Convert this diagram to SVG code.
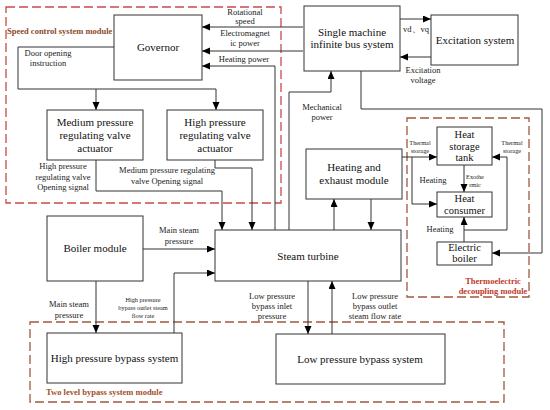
<svg xmlns="http://www.w3.org/2000/svg" width="550" height="410" viewBox="0 0 550 410" font-family="'Liberation Serif', 'Times New Roman', serif">
<defs>
<marker id="ah" markerUnits="userSpaceOnUse" markerWidth="9" markerHeight="8" refX="8" refY="3.5" orient="auto">
<path d="M0,0 L8,3.5 L0,7 z" fill="#000"/>
</marker>
<style>
text{font-family:"Liberation Serif","Times New Roman",serif}
.box{fill:#fff;stroke:#333;stroke-width:1}
.bt{font-size:11px;fill:#111;text-anchor:middle}
.st{font-size:10.5px;fill:#111;text-anchor:middle}
.lb{font-size:8.5px;fill:#222;text-anchor:middle}
.tl{font-size:6.3px;fill:#222;text-anchor:middle}
.ml{font-size:8.5px;font-weight:bold}
.cn{fill:none;stroke:#333;stroke-width:1}
.cn path{marker-end:url(#ah)}
.dash{fill:none;stroke-width:1.3;stroke-dasharray:9 4}
</style>
</defs>
<rect width="550" height="410" fill="#fff"/>
<g id="modules">
<rect class="dash" x="6" y="7" width="275" height="196" stroke="#cc4a4a"/>
<rect class="dash" x="30" y="322" width="474" height="80" stroke="#a0583c"/>
<rect class="dash" x="407" y="118" width="122" height="179" stroke="#a0583c"/>
<text class="ml" x="7" y="34" fill="#8b4a2b">Speed control system module</text>
<text class="ml" x="46" y="395" fill="#a0502d">Two level bypass system module</text>
<text class="ml" x="493" y="284" fill="#c0392b" text-anchor="middle">Thermoelectric</text>
<text class="ml" x="493" y="294" fill="#c0392b" text-anchor="middle">decoupling module</text>
</g>
<g id="connectors" class="cn">
<path d="M303,27 H202"/>
<path d="M303,51 H202"/>
<path d="M275,230 V66 H202"/>
<path d="M114,47 H18 V89 H216 V110"/>
<path d="M96,89 V110"/>
<path d="M96,160 V191 H222 V230"/>
<path d="M215,160 V168 H252 V230"/>
<path d="M289,230 V92 H331 V71"/>
<path d="M400,19 H431"/>
<path d="M431,57 H400"/>
<path d="M361,71 V109 H542 V253 H492"/>
<path d="M334,230 V199"/>
<path d="M371,199 V230"/>
<path d="M402,157 H437"/>
<path d="M412,157 V204 H437"/>
<path d="M464,165 V192"/>
<path d="M464,242 V217"/>
<path d="M464,230 H507 V157 H492"/>
<path d="M143,249 H215"/>
<path d="M174,333 V273 H215"/>
<path d="M96,281 V333"/>
<path d="M308,281 V334"/>
<path d="M332,334 V281"/>
</g>
<g id="governor"><rect class="box" x="114" y="15" width="88" height="65"/><text class="bt" x="158" y="51">Governor</text></g>
<g id="mp-actuator"><rect class="box" x="47" y="110" width="96" height="50"/><text class="bt" x="95" y="126">Medium pressure</text><text class="bt" x="95" y="139">regulating valve</text><text class="bt" x="95" y="152">actuator</text></g>
<g id="hp-actuator"><rect class="box" x="167" y="110" width="96" height="50"/><text class="bt" x="215" y="126">High pressure</text><text class="bt" x="215" y="139">regulating valve</text><text class="bt" x="215" y="152">actuator</text></g>
<g id="smib"><rect class="box" x="304" y="6" width="96" height="65"/><text class="bt" x="352" y="36">Single machine</text><text class="bt" x="352" y="48">infinite bus system</text></g>
<g id="excitation"><rect class="box" x="431" y="15" width="87" height="50"/><text class="bt" x="475" y="44">Excitation system</text></g>
<g id="heating-exhaust"><rect class="box" x="306" y="149" width="96" height="50"/><text class="bt" x="354" y="171">Heating and</text><text class="bt" x="354" y="184">exhaust module</text></g>
<g id="heat-storage"><rect class="box" x="437" y="127" width="55" height="38"/><text class="st" x="464.5" y="138">Heat</text><text class="st" x="464.5" y="150">storage</text><text class="st" x="464.5" y="161">tank</text></g>
<g id="heat-consumer"><rect class="box" x="437" y="192" width="55" height="25"/><text class="st" x="464.5" y="202">Heat</text><text class="st" x="464.5" y="214">consumer</text></g>
<g id="electric-boiler"><rect class="box" x="437" y="242" width="55" height="23"/><text class="st" x="464.5" y="251">Electric</text><text class="st" x="464.5" y="262">boiler</text></g>
<g id="steam-turbine"><rect class="box" x="215" y="230" width="186" height="51"/><text class="bt" x="308" y="260">Steam turbine</text></g>
<g id="boiler"><rect class="box" x="47" y="216" width="96" height="65"/><text class="bt" x="95" y="252">Boiler module</text></g>
<g id="hp-bypass"><rect class="box" x="47" y="333" width="135" height="50"/><text class="bt" x="114.5" y="362">High pressure bypass system</text></g>
<g id="lp-bypass"><rect class="box" x="276" y="334" width="169" height="50"/><text class="bt" x="360" y="363">Low pressure bypass system</text></g>
<g id="labels">
<text class="lb" x="245" y="15">Rotational</text><text class="lb" x="245" y="24">speed</text>
<text class="lb" x="245" y="36">Electromagnet</text><text class="lb" x="245" y="46">ic power</text>
<text class="lb" x="244" y="62">Heating power</text>
<text class="lb" x="48" y="56">Door opening</text><text class="lb" x="48" y="66">instruction</text>
<text class="lb" x="63" y="169">High pressure</text><text class="lb" x="63" y="180">regulating valve</text><text class="lb" x="63" y="190">Opening signal</text>
<text class="lb" x="167" y="173">Medium pressure regulating</text><text class="lb" x="167" y="184">valve Opening signal</text>
<text class="lb" x="322" y="110">Mechanical</text><text class="lb" x="322" y="120">power</text>
<text class="lb" x="416" y="32">vd、vq</text>
<text class="lb" x="423" y="73">Excitation</text><text class="lb" x="423" y="83">voltage</text>
<text class="tl" x="420" y="145">Thermal</text><text class="tl" x="420" y="153">storage</text>
<text class="tl" x="512" y="145">Thermal</text><text class="tl" x="512" y="153">storage</text>
<text class="lb" x="433" y="183">Heating</text>
<text class="tl" x="475" y="179">Exothe</text><text class="tl" x="475" y="187">rmic</text>
<text class="lb" x="440" y="232">Heating</text>
<text class="lb" x="179" y="233">Main steam</text><text class="lb" x="179" y="244">pressure</text>
<text class="lb" x="69" y="307">Main steam</text><text class="lb" x="69" y="318">pressure</text>
<text class="tl" x="143" y="302">High pressure</text><text class="tl" x="143" y="310">bypass outlet steam</text><text class="tl" x="143" y="318">flow rate</text>
<text class="lb" x="272" y="299">Low pressure</text><text class="lb" x="272" y="309">bypass inlet</text><text class="lb" x="272" y="319">pressure</text>
<text class="lb" x="375" y="299">Low pressure</text><text class="lb" x="375" y="309">bypass outlet</text><text class="lb" x="375" y="319">steam flow rate</text>
</g>
</svg>
